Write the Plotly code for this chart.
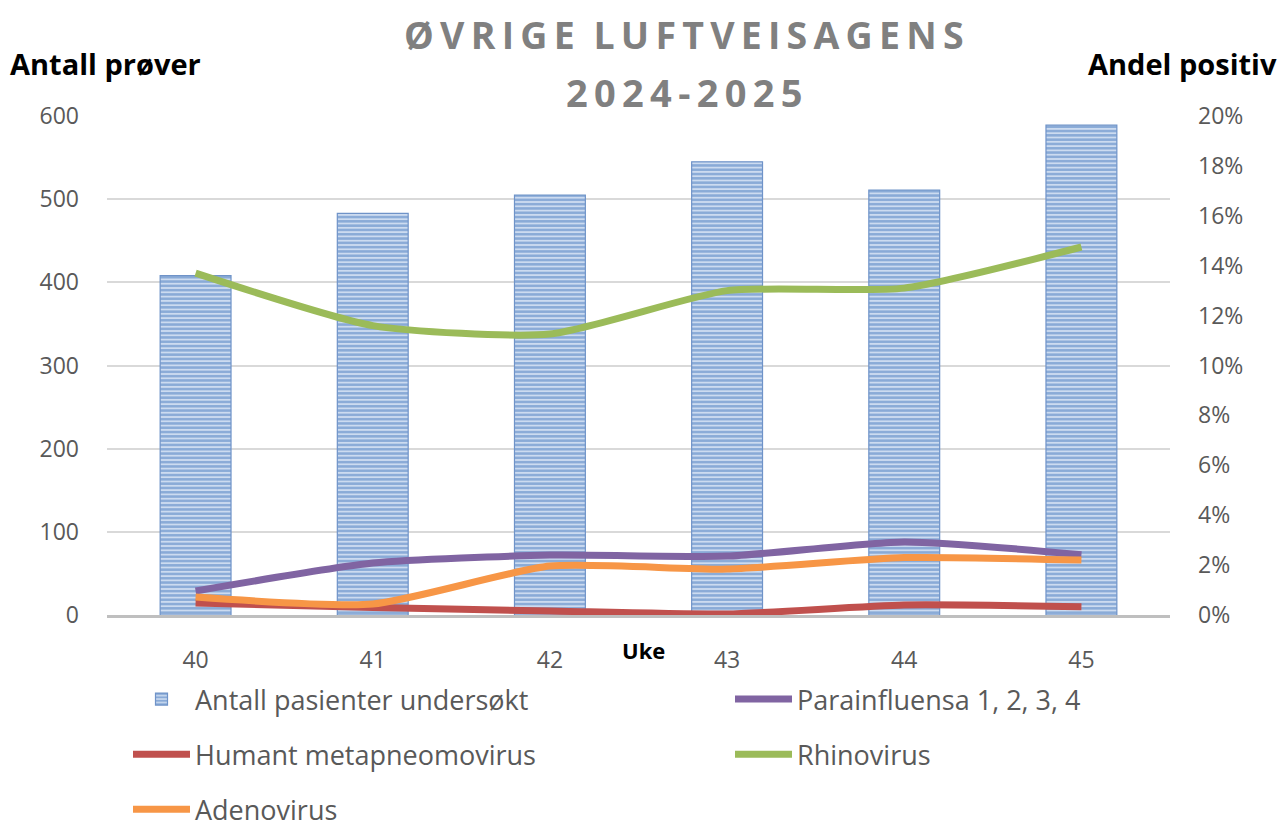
import plotly.graph_objects as go

weeks = ["40", "41", "42", "43", "44", "45"]
antall = [408, 483, 505, 545, 511, 589]
parainfluensa = [0.0096, 0.0208, 0.024, 0.0236, 0.0293, 0.0242]
hmpv = [0.0048, 0.0030, 0.0016, 0.0004, 0.0040, 0.0033]
rhinovirus = [0.137, 0.116, 0.1126, 0.130, 0.131, 0.1475]
adenovirus = [0.0072, 0.0044, 0.0196, 0.0184, 0.0230, 0.0220]

tick_col = "#595959"
FONT = "Open Sans"

fig = go.Figure()
fig.add_trace(go.Bar(
    x=weeks, y=antall, name="Antall pasienter undersøkt", yaxis="y",
    width=0.4,
    marker=dict(color="#C9D8EE", line=dict(color="#6F93C8", width=1.2),
                pattern=dict(shape="-", fgcolor="#4679BD", bgcolor="#CCDBF0",
                             size=4.3, solidity=0.58, fillmode="overlay")),
    legend="legend", legendgroup="a",
))
line_kw = dict(shape="spline", smoothing=0.6, width=7)
fig.add_trace(go.Scatter(x=weeks, y=parainfluensa, name="Parainfluensa 1, 2, 3, 4", yaxis="y2",
                         mode="lines", line=dict(color="#8064A2", **line_kw),
                         legend="legend2", legendgroup="b"))
fig.add_trace(go.Scatter(x=weeks, y=hmpv, name="Humant metapneomovirus", yaxis="y2",
                         mode="lines", line=dict(color="#C0504D", **line_kw),
                         legend="legend", legendgroup="c"))
fig.add_trace(go.Scatter(x=weeks, y=rhinovirus, name="Rhinovirus", yaxis="y2",
                         mode="lines", line=dict(color="#9BBB59", **line_kw),
                         legend="legend2", legendgroup="d"))
fig.add_trace(go.Scatter(x=weeks, y=adenovirus, name="Adenovirus", yaxis="y2",
                         mode="lines", line=dict(color="#F79646", **line_kw),
                         legend="legend", legendgroup="e"))

title1 = "\u2009".join(list("ØVRIGE")) + "\u2002" + "\u2009".join(list("LUFTVEISAGENS"))
title2 = "\u2009".join(list("2024-2025"))

L, R, T, B = 107, 109, 116, 205
W, H = 1279 - L - R, 820 - T - B


def px(x, y):
    return (x - L) / W, 1 - (y - T) / H


leg_common = dict(orientation="v", font=dict(family=FONT, size=27, color=tick_col),
                  itemwidth=57, tracegroupgap=17, bgcolor="rgba(0,0,0,0)",
                  xref="paper", yref="paper", xanchor="left", yanchor="top")

anns = []
for text, x, y, anchor, size, color in [
    ("<b>" + title1 + "</b>", 684, 35, "center", 37.5, "#808080"),
    ("<b>" + title2 + "</b>", 684, 92, "center", 38, "#808080"),
    ("<b>Antall prøver</b>", 8, 63, "left", 29, "black"),
    ("<b>Andel positiv</b>", 1279, 63, "right", 29, "black"),
    ("<b>Uke</b>", 643, 650, "center", 22, "black"),
]:
    ax, ay = px(x, y)
    anns.append(dict(text=text, x=ax, y=ay, xref="paper", yref="paper", showarrow=False,
                     xanchor=anchor, yanchor="middle",
                     font=dict(size=size, color=color, family=FONT)))

lx1, ly = px(128, 675)
lx2, _ = px(730, 675)

fig.update_layout(
    width=1279, height=820,
    margin=dict(l=L, r=R, t=T, b=B, autoexpand=False),
    paper_bgcolor="white", plot_bgcolor="white",
    font=dict(family=FONT, color=tick_col),
    showlegend=True,
    xaxis=dict(type="category", showgrid=False, showline=True, linecolor="#BFBFBF", linewidth=3,
               ticks="", tickfont=dict(size=23, color=tick_col), ticklabelstandoff=22),
    yaxis=dict(range=[0, 600], dtick=100, showgrid=True, gridcolor="#D9D9D9", gridwidth=1.5,
               zeroline=False, ticks="", tickfont=dict(size=23, color=tick_col),
               ticklabelstandoff=27),
    yaxis2=dict(range=[0, 0.2], dtick=0.02, tickformat=".0%", overlaying="y", side="right",
                showgrid=False, zeroline=False, ticks="", tickfont=dict(size=23, color=tick_col),
                ticklabelstandoff=27),
    legend=dict(x=lx1, y=ly, **leg_common),
    legend2=dict(x=lx2, y=ly, **leg_common),
    annotations=anns,
)

fig.write_html("out.html", config={"displayModeBar": False},
               post_script="document.body.style.margin='0';document.body.style.overflow='hidden';")
